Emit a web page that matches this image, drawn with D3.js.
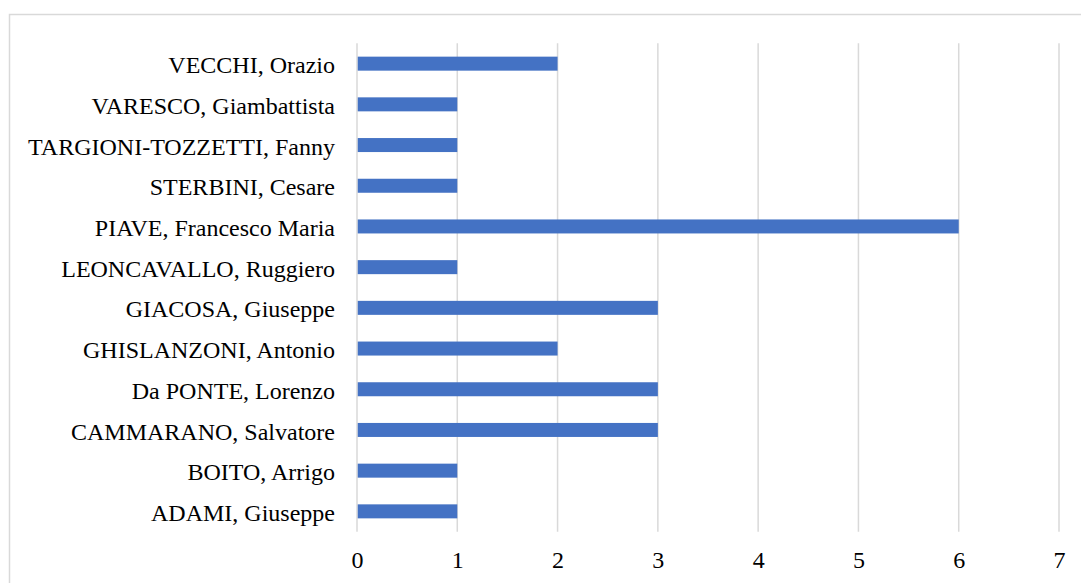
<!DOCTYPE html>
<html>
<head>
<meta charset="utf-8">
<script src="https://cdn.jsdelivr.net/npm/d3@7"></script>
<style>
  html, body { margin: 0; padding: 0; background: #fff; }
  svg { display: block; }
</style>
</head>
<body>
<svg id="chart" width="1081" height="583"></svg>
<script>
const categories = [
  "VECCHI, Orazio",
  "VARESCO, Giambattista",
  "TARGIONI-TOZZETTI, Fanny",
  "STERBINI, Cesare",
  "PIAVE, Francesco Maria",
  "LEONCAVALLO, Ruggiero",
  "GIACOSA, Giuseppe",
  "GHISLANZONI, Antonio",
  "Da PONTE, Lorenzo",
  "CAMMARANO, Salvatore",
  "BOITO, Arrigo",
  "ADAMI, Giuseppe"
];
const values = [2, 1, 1, 1, 6, 1, 3, 2, 3, 3, 1, 1];
const tickValues = [0, 1, 2, 3, 4, 5, 6, 7];

const FONT = '"Liberation Serif"';

const svg = d3.select("#chart");

// chart border (right and bottom edges fall outside the image)
svg.append("rect")
  .attr("x", 9.5).attr("y", 14.5)
  .attr("width", 1200).attr("height", 700)
  .attr("fill", "none").attr("stroke", "#d9d9d9").attr("stroke-width", 1.5);

const plot = { left: 357, right: 1059, top: 43.3, bottom: 531.7 };

const x = d3.scaleLinear().domain([0, 7]).range([plot.left, plot.right]);
const y = d3.scaleBand().domain(categories)
  .range([plot.top, plot.bottom])
  .paddingInner(0.656).paddingOuter(0.328);

// gridlines
svg.append("g").selectAll("line").data(tickValues).join("line")
  .attr("x1", d => x(d)).attr("x2", d => x(d))
  .attr("y1", plot.top).attr("y2", plot.bottom)
  .attr("stroke", "#d9d9d9").attr("stroke-width", 1.5);

// bars
svg.append("g").selectAll("rect").data(values).join("rect")
  .attr("x", x(0) + 0.75)
  .attr("y", (d, i) => y(categories[i]))
  .attr("width", d => x(d) - x(0) - 0.75)
  .attr("height", y.bandwidth())
  .attr("fill", "#4472C4");

// x axis tick labels
const xAxis = d3.axisBottom(x).tickValues(tickValues).tickSize(0).tickPadding(0).tickFormat(d3.format("d"));
const gx = svg.append("g").attr("transform", `translate(0, ${plot.bottom})`).call(xAxis)
  .attr("font-family", FONT).attr("font-size", 24);
gx.select(".domain").remove();
gx.selectAll("text")
  .attr("y", 36).attr("dy", 0)
  .style("font-family", FONT)
  .style("font-size", "24px")
  .attr("fill", "#000");

// y axis category labels
const yAxis = d3.axisLeft(y).tickSize(0).tickPadding(22);
const gy = svg.append("g").attr("transform", `translate(${plot.left}, 0)`).call(yAxis)
  .attr("font-family", FONT).attr("font-size", 24);
gy.select(".domain").remove();
gy.selectAll("text")
  .attr("dy", "0.4em")
  .style("font-family", FONT)
  .style("font-size", "24px")
  .attr("fill", "#000");
</script>
</body>
</html>
